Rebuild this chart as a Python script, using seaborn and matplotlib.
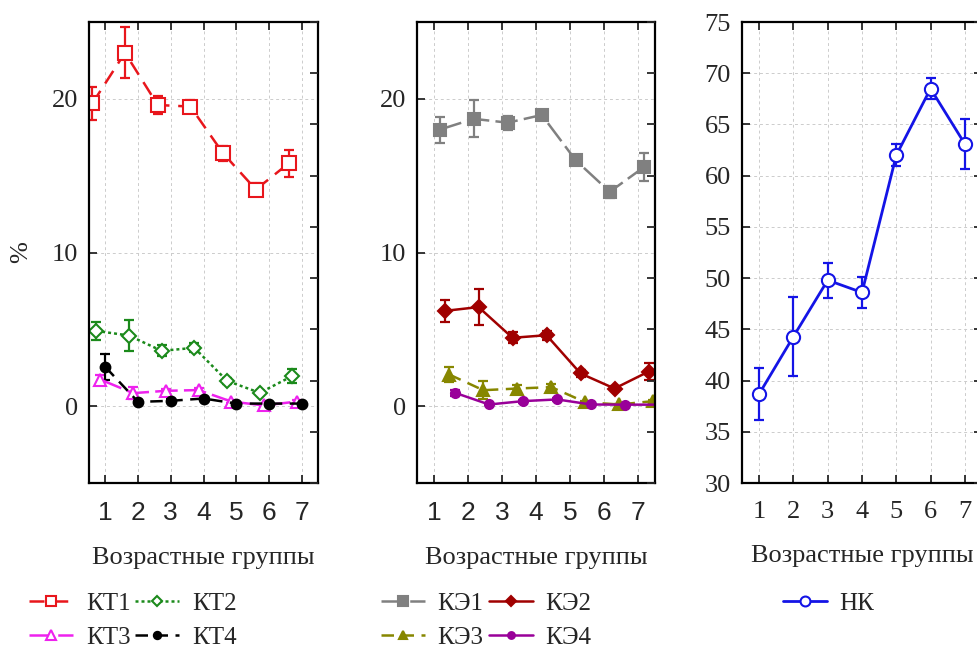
import numpy as np
import pandas as pd
import seaborn as sns
import matplotlib.pyplot as plt

# возрастные группы
groups = [1, 2, 3, 4, 5, 6, 7]

# левая панель: КТ1..КТ4 (%), среднее и ошибка
kt1 = [19.7, 23.0, 19.6, 19.5, 16.45, 14.1, 15.8]
kt1_err = [1.1, 1.65, 0.6, 0.45, 0.5, 0.4, 0.9]
kt2 = [4.9, 4.6, 3.6, 3.8, 1.65, 0.87, 1.97]
kt2_err = [0.6, 1.0, 0.35, 0.3, 0.2, 0.15, 0.45]
kt3 = [1.73, 0.85, 1.0, 1.05, 0.3, 0.05, 0.3]
kt3_err = [0.3, 0.4, 0.15, 0.15, 0.1, 0.1, 0.1]
kt4 = [2.55, 0.28, 0.35, 0.5, 0.17, 0.17, 0.17]
kt4_err = [0.85, 0.1, 0.1, 0.1, 0.05, 0.05, 0.05]

# средняя панель: КЭ1..КЭ4
ke1 = [18.0, 18.7, 18.45, 18.95, 16.0, 13.95, 15.55]
ke1_err = [0.85, 1.2, 0.45, 0.3, 0.3, 0.4, 0.9]
ke2 = [6.2, 6.45, 4.45, 4.62, 2.13, 1.15, 2.25]
ke2_err = [0.7, 1.15, 0.35, 0.3, 0.2, 0.15, 0.55]
ke3 = [2.06, 1.04, 1.15, 1.24, 0.26, 0.11, 0.33]
ke3_err = [0.5, 0.6, 0.2, 0.2, 0.1, 0.05, 0.1]
ke4 = [0.87, 0.11, 0.33, 0.44, 0.11, 0.1, 0.1]
ke4_err = [0.2, 0.05, 0.1, 0.1, 0.05, 0.05, 0.05]

# правая панель: НК
nk = [38.7, 44.3, 49.8, 48.6, 62.0, 68.5, 63.1]
nk_err = [2.5, 3.9, 1.7, 1.5, 1.05, 1.05, 2.4]

xlabel = "Возрастные группы"

sns.set_style("white")
plt.rcParams["font.family"] = ["Liberation Serif", "DejaVu Serif"]
plt.rcParams["axes.edgecolor"] = "black"
plt.rcParams["axes.linewidth"] = 1.6


def series(ax, name, mean, err, color, marker, ls, dx, ms, hollow=False, lw=1.8):
    # две точки на группу (m-e, m+e): среднее = m, размах = ошибка
    m = np.array(mean)
    e = np.array(err)
    x = np.repeat(np.array(groups) + dx, 2)
    y = np.column_stack([m - e, m + e]).ravel()
    sns.lineplot(x=x, y=y, ax=ax, estimator="mean", errorbar=("pi", 100),
                 err_style="bars",
                 err_kws=dict(capsize=3.5, elinewidth=1.6, capthick=1.6, zorder=1.9),
                 color=color, marker=marker, linestyle=ls, linewidth=lw,
                 markersize=ms, markeredgecolor=color,
                 markerfacecolor="white" if hollow else color,
                 markeredgewidth=1.5, label=name)


def style_axes(ax, ylim, yticks, right_ticks, sans_x=True):
    ax.set_xlim(0.5, 7.5)
    ax.set_ylim(*ylim)
    ax.set_xticks(groups)
    ax.set_yticks(yticks)
    ax.grid(True, color="#cccccc", linestyle=(0, (3, 3)), linewidth=0.7)
    ax.tick_params(axis="x", direction="in", top=True, bottom=True,
                   length=6, width=1.3, labelsize=19, pad=13)
    ax.tick_params(axis="y", direction="in", left=True, right=False,
                   length=6, width=1.3, labelsize=19, pad=8)
    if sans_x:
        for t in ax.get_xticklabels():
            t.set_family("Liberation Sans")
    ax.set_xlabel(xlabel, fontsize=19, labelpad=16)
    ax.set_ylabel("")
    tw = ax.twinx()
    tw.set_ylim(*ylim)
    tw.set_yticks(right_ticks)
    tw.tick_params(axis="y", direction="in", length=6, width=1.3,
                   labelright=False)
    tw.grid(False)
    for s in tw.spines.values():
        s.set_visible(False)


def legend(ax, handles, labels, x, y):
    ax.legend(handles, labels, loc="upper left", bbox_to_anchor=(x, y),
              bbox_transform=ax.figure.transFigure, ncol=2, frameon=False,
              handlelength=1.76, handletextpad=0.5, columnspacing=0.2,
              labelspacing=0.45, borderpad=0, borderaxespad=0, markerscale=0.75,
              prop={"family": "Liberation Serif", "size": 18})


fig = plt.figure(figsize=(9.77, 6.48), dpi=100)
ax1 = fig.add_axes([0.0911, 0.2546, 0.2344, 0.7114])
ax2 = fig.add_axes([0.4268, 0.2546, 0.2436, 0.7114])
ax3 = fig.add_axes([0.7595, 0.2546, 0.2456, 0.7114])

series(ax1, "КТ1", kt1, kt1_err, "#e8161c", "s", (0, (6, 3.5)), -0.40, 9.5, hollow=True)
series(ax1, "КТ2", kt2, kt2_err, "#1b8a1b", "D", (0, (1.2, 1.2)), -0.28, 7, hollow=True)
series(ax1, "КТ3", kt3, kt3_err, "#ee22ee", "^", (0, (9, 2.5)), -0.15, 9, hollow=True)
series(ax1, "КТ4", kt4, kt4_err, "black", "o", (0, (5, 3)), 0.0, 7)
style_axes(ax1, (-5, 25), [0, 10, 20], np.linspace(-5, 25, 10))
ax1.set_ylabel("%", fontsize=19, labelpad=14)

series(ax2, "КЭ1", ke1, ke1_err, "#808080", "s", (0, (9, 2.5)), 0.17, 9)
series(ax2, "КЭ2", ke2, ke2_err, "#a00000", "D", "-", 0.31, 7)
series(ax2, "КЭ3", ke3, ke3_err, "#878700", "^", (0, (5, 3)), 0.45, 8.5)
series(ax2, "КЭ4", ke4, ke4_err, "#990099", "o", "-", 0.62, 6.5)
style_axes(ax2, (-5, 25), [0, 10, 20], np.linspace(-5, 25, 10))

series(ax3, "НК", nk, nk_err, "#1414e6", "o", "-", 0.0, 9.5, hollow=True, lw=2)
style_axes(ax3, (30, 75), np.arange(30, 80, 5), np.arange(30, 80, 5), sans_x=False)

h, l = ax1.get_legend_handles_labels()
legend(ax1, [h[0], h[2], h[1], h[3]], [l[0], l[2], l[1], l[3]], 0.030, 0.086)
h, l = ax2.get_legend_handles_labels()
legend(ax2, [h[0], h[2], h[1], h[3]], [l[0], l[2], l[1], l[3]], 0.390, 0.086)
h, l = ax3.get_legend_handles_labels()
legend(ax3, h, l, 0.801, 0.086)

fig.savefig("out.png", dpi=100)
